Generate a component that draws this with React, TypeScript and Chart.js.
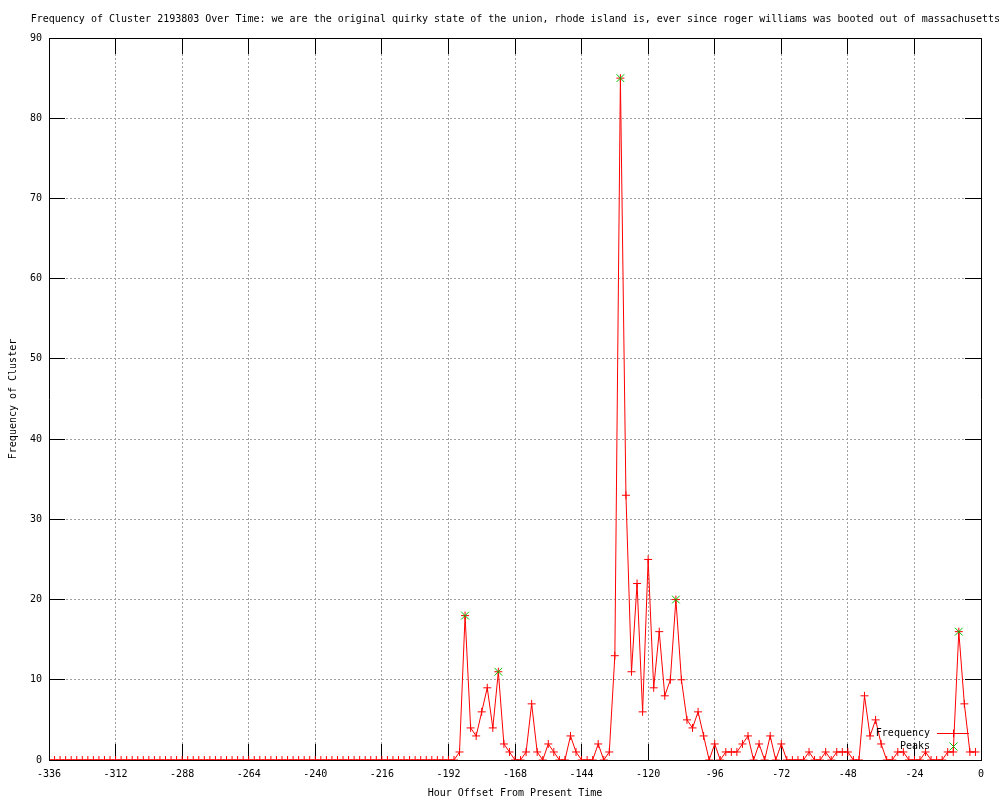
import React, { useEffect, useRef } from "react";
import { Chart, registerables } from "chart.js";

Chart.register(...registerables);

const FONT = "'DejaVu Sans Mono', 'Liberation Mono', monospace";

const titleText =
  "Frequency of Cluster 2193803 Over Time: we are the original quirky state of the union, rhode island is, ever since roger williams was booted out of massachusetts";
const xAxisTitle = "Hour Offset From Present Time";
const yAxisTitle = "Frequency of Cluster";
const seriesLabels = ["Frequency", "Peaks"];

const hours = [
  -336, -334, -332, -330, -328, -326, -324, -322, -320, -318,
  -316, -314, -312, -310, -308, -306, -304, -302, -300, -298,
  -296, -294, -292, -290, -288, -286, -284, -282, -280, -278,
  -276, -274, -272, -270, -268, -266, -264, -262, -260, -258,
  -256, -254, -252, -250, -248, -246, -244, -242, -240, -238,
  -236, -234, -232, -230, -228, -226, -224, -222, -220, -218,
  -216, -214, -212, -210, -208, -206, -204, -202, -200, -198,
  -196, -194, -192, -190,
  -188, -186, -184, -182, -180, -178, -176, -174, -172, -170,
  -168, -166, -164, -162, -160, -158, -156, -154, -152, -150,
  -148, -146, -144, -142, -140, -138, -136, -134, -132, -130,
  -128, -126, -124, -122, -120, -118, -116, -114, -112, -110,
  -108, -106, -104, -102, -100, -98, -96, -94, -92, -90,
  -88, -86, -84, -82, -80, -78, -76, -74, -72, -70,
  -68, -66, -64, -62, -60, -58, -56, -54, -52, -50,
  -48, -46, -44, -42, -40, -38, -36, -34, -32, -30,
  -28, -26, -24, -22, -20, -18, -16, -14, -12, -10,
  -8, -6, -4, -2,
];

const frequency = [
  0, 0, 0, 0, 0, 0, 0, 0, 0, 0,
  0, 0, 0, 0, 0, 0, 0, 0, 0, 0,
  0, 0, 0, 0, 0, 0, 0, 0, 0, 0,
  0, 0, 0, 0, 0, 0, 0, 0, 0, 0,
  0, 0, 0, 0, 0, 0, 0, 0, 0, 0,
  0, 0, 0, 0, 0, 0, 0, 0, 0, 0,
  0, 0, 0, 0, 0, 0, 0, 0, 0, 0,
  0, 0, 0, 0,
  1, 18, 4, 3, 6, 9, 4, 11, 2, 1,
  0, 0, 1, 7, 1, 0, 2, 1, 0, 0,
  3, 1, 0, 0, 0, 2, 0, 1, 13, 85,
  33, 11, 22, 6, 25, 9, 16, 8, 10, 20,
  10, 5, 4, 6, 3, 0, 2, 0, 1, 1,
  1, 2, 3, 0, 2, 0, 3, 0, 2, 0,
  0, 0, 0, 1, 0, 0, 1, 0, 1, 1,
  1, 0, 0, 8, 3, 5, 2, 0, 0, 1,
  1, 0, 0, 0, 1, 0, 0, 0, 1, 1,
  16, 7, 1, 1,
];

const peakHours = [-186, -174, -130, -110, -8];
const peakValues = [18, 11, 85, 20, 16];

const xTickValues = [-336, -312, -288, -264, -240, -216, -192, -168, -144, -120, -96, -72, -48, -24, 0];
const yTickValues = [0, 10, 20, 30, 40, 50, 60, 70, 80, 90];

const RED = "#ff0000";
const GREEN = "#00c000";
const GRID = "#a0a0a0";

const keyPlugin = {
  id: "gnuKey",
  afterDraw(chart: any) {
    const ctx = chart.ctx;
    const area = chart.chartArea;
    const textRight = area.right - 51;
    const sx1 = area.right - 44;
    const sx2 = area.right - 12;
    const cx = Math.round((sx1 + sx2) / 2) + 0.5;
    const rows = [area.bottom - 27, area.bottom - 14];
    ctx.save();
    ctx.font = `10px ${FONT}`;
    ctx.fillStyle = "#000";
    ctx.textAlign = "right";
    ctx.textBaseline = "middle";
    chart.data.datasets.forEach((ds: any, i: number) => {
      const y = rows[i] + 0.5;
      ctx.fillText(ds.label, textRight, y);
      ctx.lineWidth = 1;
      if (i === 0) {
        ctx.strokeStyle = RED;
        ctx.beginPath();
        ctx.moveTo(sx1, y);
        ctx.lineTo(sx2, y);
        ctx.moveTo(cx, y - 4);
        ctx.lineTo(cx, y + 4);
        ctx.stroke();
      } else {
        ctx.strokeStyle = GREEN;
        ctx.beginPath();
        ctx.moveTo(cx - 4, y - 4);
        ctx.lineTo(cx + 4, y + 4);
        ctx.moveTo(cx - 4, y + 4);
        ctx.lineTo(cx + 4, y - 4);
        ctx.stroke();
      }
    });
    ctx.restore();
  },
};

export default function App() {
  const canvasRef = useRef<HTMLCanvasElement | null>(null);

  useEffect(() => {
    const canvas = canvasRef.current;
    if (!canvas) return;

    const freqData = hours.map((h, i) => ({ x: h, y: frequency[i] }));
    const peakData = peakHours.map((h, i) => ({ x: h, y: peakValues[i] }));

    const tickFont = { family: FONT, size: 10, weight: "normal" as const };

    const chart = new Chart(canvas, {
      type: "line",
      data: {
        datasets: [
          {
            label: seriesLabels[0],
            data: freqData,
            borderColor: RED,
            backgroundColor: RED,
            borderWidth: 1,
            tension: 0,
            pointStyle: "cross",
            pointRadius: 4,
            pointBorderWidth: 1,
            pointBorderColor: RED,
            pointHoverRadius: 4,
            fill: false,
            order: 2,
          },
          {
            label: seriesLabels[1],
            data: peakData,
            showLine: false,
            borderColor: GREEN,
            backgroundColor: GREEN,
            pointStyle: "crossRot",
            pointRadius: 5.5,
            pointBorderWidth: 1,
            pointBorderColor: GREEN,
            pointHoverRadius: 5.5,
            order: 1,
          },
        ],
      },
      options: {
        animation: false,
        responsive: false,
        devicePixelRatio: 1,
        events: [],
        layout: { padding: { left: 0, right: 0, top: 0, bottom: 0 } },
        plugins: {
          legend: { display: false },
          tooltip: { enabled: false },
          title: {
            display: true,
            text: titleText,
            fullSize: true,
            align: "end",
            color: "#000",
            font: { family: FONT, size: 10, weight: "normal" },
            padding: { top: 13, bottom: 13 },
          },
        },
        scales: {
          x: {
            type: "linear",
            position: "bottom",
            weight: 1,
            min: -336,
            max: 0,
            afterBuildTicks: (s: any) => {
              s.ticks = xTickValues.map((v) => ({ value: v }));
            },
            afterFit: (s: any) => {
              s.height = 40;
              s.paddingLeft = 0;
              s.paddingRight = 0;
            },
            ticks: {
              autoSkip: false,
              maxRotation: 0,
              minRotation: 0,
              color: "#000",
              font: tickFont,
              padding: 24,
            },
            grid: {
              color: GRID,
              lineWidth: 1,
              drawTicks: true,
              tickLength: -16,
              tickColor: "#000",
              tickWidth: 1,
            },
            border: { display: true, color: "#000", width: 1, dash: [2, 2], z: 1 },
            title: {
              display: true,
              text: xAxisTitle,
              color: "#000",
              font: tickFont,
              padding: { top: 1, bottom: 1 },
            },
          },
          x2: {
            type: "linear",
            position: "top",
            min: -336,
            max: 0,
            afterBuildTicks: (s: any) => {
              s.ticks = xTickValues.map((v) => ({ value: v }));
            },
            afterFit: (s: any) => {
              s.height = 0;
              s.paddingLeft = 0;
              s.paddingRight = 0;
            },
            ticks: { display: false },
            grid: {
              drawOnChartArea: false,
              drawTicks: true,
              tickLength: -16,
              tickColor: "#000",
              tickWidth: 1,
            },
            border: { display: true, color: "#000", width: 1, z: 1 },
          },
          y: {
            type: "linear",
            position: "left",
            min: 0,
            max: 90,
            afterBuildTicks: (s: any) => {
              s.ticks = yTickValues.map((v) => ({ value: v }));
            },
            afterFit: (s: any) => {
              s.width = 49;
              s.paddingTop = 0;
              s.paddingBottom = 0;
            },
            ticks: {
              color: "#000",
              font: tickFont,
              padding: 23,
            },
            grid: {
              color: GRID,
              lineWidth: 1,
              drawTicks: true,
              tickLength: -16,
              tickColor: "#000",
              tickWidth: 1,
            },
            border: { display: true, color: "#000", width: 1, dash: [2, 2], z: 1 },
            title: {
              display: true,
              text: yAxisTitle,
              color: "#000",
              font: tickFont,
              padding: { top: 7, bottom: 7 },
            },
          },
          y2: {
            type: "linear",
            position: "right",
            min: 0,
            max: 90,
            afterBuildTicks: (s: any) => {
              s.ticks = yTickValues.map((v) => ({ value: v }));
            },
            afterFit: (s: any) => {
              s.width = 19;
              s.paddingTop = 0;
              s.paddingBottom = 0;
            },
            ticks: { display: false },
            grid: {
              drawOnChartArea: false,
              drawTicks: true,
              tickLength: -16,
              tickColor: "#000",
              tickWidth: 1,
            },
            border: { display: true, color: "#000", width: 1, z: 1 },
          },
        },
      },
      plugins: [keyPlugin],
    } as any);

    return () => {
      chart.destroy();
    };
  }, []);

  return (
    <div style={{ position: "absolute", left: 0, top: 0, width: 1000, height: 800, background: "#fff" }}>
      <canvas ref={canvasRef} width={1000} height={800} style={{ display: "block", width: 1000, height: 800 }} />
    </div>
  );
}
